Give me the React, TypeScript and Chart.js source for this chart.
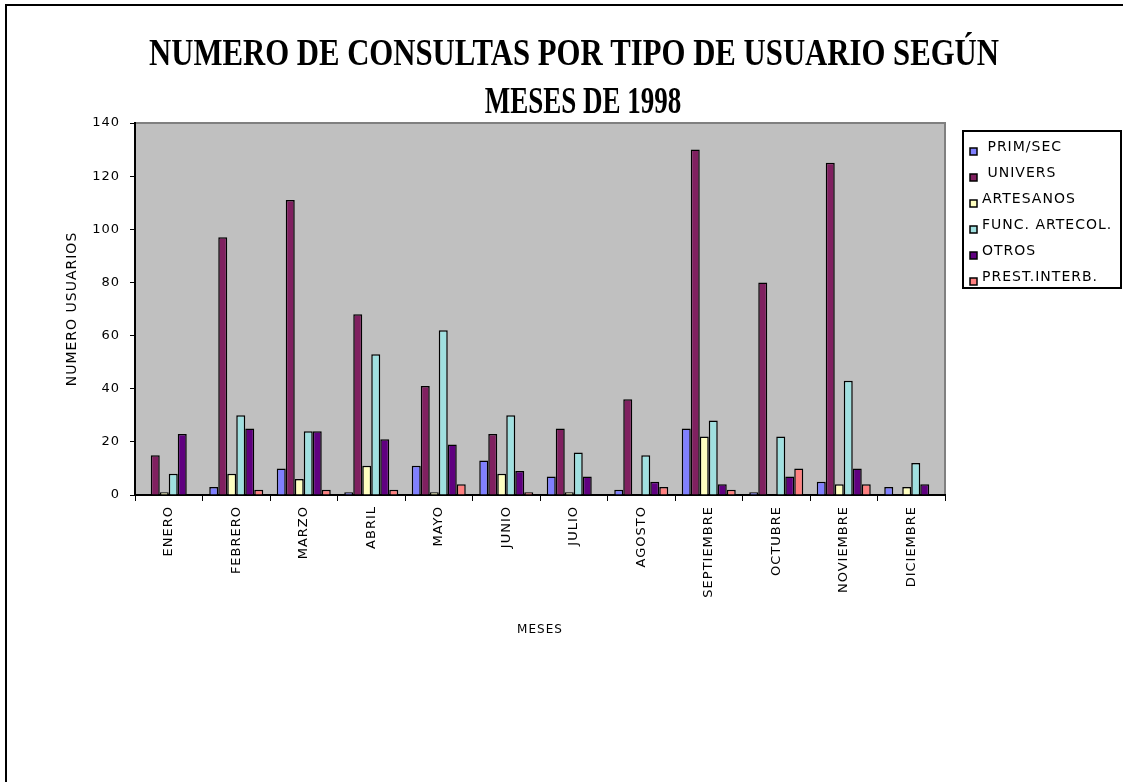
import React, { useEffect, useRef } from 'react';
import { Chart, registerables } from 'chart.js';

Chart.register(...registerables);

const titleLines = ['NUMERO DE CONSULTAS POR TIPO DE USUARIO SEGÚN', 'MESES DE 1998'];
const xAxisTitle = 'MESES';
const yAxisTitle = 'NUMERO USUARIOS';

const months = ['ENERO', 'FEBRERO', 'MARZO', 'ABRIL', 'MAYO', 'JUNIO', 'JULIO', 'AGOSTO', 'SEPTIEMBRE', 'OCTUBRE', 'NOVIEMBRE', 'DICIEMBRE'];
const seriesNames = [' PRIM/SEC', ' UNIVERS', 'ARTESANOS', 'FUNC. ARTECOL.', 'OTROS', 'PREST.INTERB.'];

const primSec = [0, 3, 10, 1, 11, 13, 7, 2, 25, 1, 5, 3];
const univers = [15, 97, 111, 68, 41, 23, 25, 36, 130, 80, 125, 0];
const artesanos = [1, 8, 6, 11, 1, 8, 1, 0, 22, 0, 4, 3];
const funcArtecol = [8, 30, 24, 53, 62, 30, 16, 15, 28, 22, 43, 12];
const otros = [23, 25, 24, 21, 19, 9, 7, 5, 4, 7, 10, 4];
const prestInterb = [0, 2, 2, 2, 4, 1, 0, 3, 2, 10, 4, 0];

const yMin = 0;
const yMax = 140;
const yStep = 20;

const seriesColors = ['#8080FF', '#802060', '#FFFFC0', '#A0E0E0', '#600080', '#FF8080'];

const FONT = '"DejaVu Sans", sans-serif';

const titleLayout = [
  { x: 574, y: 55, sx: 1.025 },
  { x: 583, y: 103, sx: 0.9 },
];

const decorPlugin = {
  id: 'decor',
  beforeDraw(chart: any) {
    const { ctx, chartArea } = chart;
    ctx.save();
    ctx.fillStyle = '#ffffff';
    ctx.fillRect(0, 0, chart.width, chart.height);
    // outer frame
    ctx.strokeStyle = '#000';
    ctx.lineWidth = 2;
    ctx.strokeRect(6, 5, 1400, 1000);
    // plot background
    ctx.fillStyle = '#C0C0C0';
    ctx.fillRect(chartArea.left, chartArea.top, chartArea.right - chartArea.left, chartArea.bottom - chartArea.top);
    ctx.strokeStyle = '#808080';
    ctx.lineWidth = 2;
    ctx.beginPath();
    ctx.moveTo(chartArea.left, chartArea.top);
    ctx.lineTo(chartArea.right, chartArea.top);
    ctx.lineTo(chartArea.right, chartArea.bottom);
    ctx.stroke();
    ctx.restore();
    // title
    ctx.save();
    (ctx as any).letterSpacing = '0px';
    ctx.fillStyle = '#000';
    ctx.font = 'bold 30px "Liberation Serif", serif';
    ctx.textAlign = 'center';
    ctx.textBaseline = 'middle';
    titleLines.forEach((line, i) => {
      const p = titleLayout[i];
      ctx.save();
      ctx.translate(p.x, p.y);
      ctx.scale(p.sx, 1.25);
      ctx.fillText(line, 0, 0);
      ctx.restore();
    });
    ctx.restore();
    (ctx as any).letterSpacing = '1px';
  },
  afterDraw(chart: any) {
    const { ctx } = chart;
    ctx.save();
    (ctx as any).letterSpacing = '1px';
    ctx.strokeStyle = '#000';
    ctx.lineWidth = 2;
    ctx.strokeRect(963, 131, 158, 157);
    ctx.font = '14px ' + FONT;
    ctx.textAlign = 'left';
    ctx.textBaseline = 'middle';
    chart.data.datasets.forEach((ds: any, i: number) => {
      const cy = 147 + i * 26;
      ctx.fillStyle = ds.backgroundColor;
      ctx.fillRect(970, cy + 1, 7, 7);
      ctx.lineWidth = 1.5;
      ctx.strokeStyle = '#000';
      ctx.strokeRect(970, cy + 1, 7, 7);
      ctx.fillStyle = '#000';
      ctx.fillText(ds.label, 982, cy);
    });
    ctx.restore();
  },
};

export default function App() {
  const canvasRef = useRef<HTMLCanvasElement | null>(null);

  useEffect(() => {
    const canvas = canvasRef.current;
    if (!canvas) return;
    const seriesData = [primSec, univers, artesanos, funcArtecol, otros, prestInterb];
    const chart = new Chart(canvas, {
      type: 'bar',
      data: {
        labels: months,
        datasets: seriesData.map((d, i) => ({
          label: seriesNames[i],
          data: d,
          backgroundColor: seriesColors[i],
          borderColor: '#000',
          borderWidth: 1.5,
          categoryPercentage: 0.8,
          barPercentage: 1.0,
        })),
      },
      options: {
        responsive: false,
        animation: false,
        devicePixelRatio: 1,
        layout: { padding: { top: 123, right: 178, bottom: 137, left: 0 } },
        plugins: {
          legend: { display: false },
          title: { display: false },
          tooltip: { enabled: false },
        },
        scales: {
          x: {
            type: 'category',
            offset: true,
            grid: { drawOnChartArea: false, drawTicks: true, tickLength: 6, color: '#000', lineWidth: 1, offset: true },
            border: { display: true, color: '#000', width: 2 },
            ticks: { minRotation: 90, maxRotation: 90, autoSkip: false, color: '#000', font: { family: FONT, size: 13 }, padding: 5 },
            title: { display: true, text: xAxisTitle, color: '#000', font: { family: FONT, size: 12 }, padding: { top: 4, bottom: 8 } },
            afterFit: (scale: any) => { scale.height = 150; },
          },
          y: {
            min: yMin,
            max: yMax,
            grid: { drawOnChartArea: false, drawTicks: true, tickLength: 5, color: '#000', lineWidth: 1 },
            border: { display: true, color: '#000', width: 2 },
            ticks: { stepSize: yStep, color: '#000', font: { family: FONT, size: 13 }, padding: 10 },
            title: { display: true, text: yAxisTitle, color: '#000', font: { family: FONT, size: 14 }, padding: { top: 64, bottom: 0 } },
            afterFit: (scale: any) => { scale.width = 135; },
          },
        },
      },
      plugins: [decorPlugin],
    });
    return () => chart.destroy();
  }, []);

  return (
    <div style={{ position: 'absolute', left: 0, top: 0, width: 1123, height: 782, background: '#fff', overflow: 'hidden' }}>
      <canvas ref={canvasRef} width={1123} height={782} style={{ display: 'block' }} />
    </div>
  );
}
